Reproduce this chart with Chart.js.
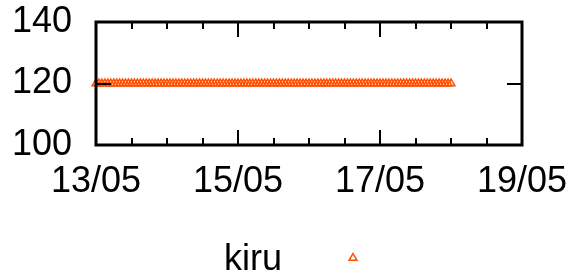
<!DOCTYPE html>
<html lang="en">
<head>
    <meta charset="UTF-8">
    <title>kiru</title>
    <script src="https://cdn.jsdelivr.net/npm/chart.js"></script>
    <style>
        body { margin: 0; background: #fff; }
        #wrap { width: 587px; height: 275px; }
    </style>
</head>
<body>
    <div id="wrap"><canvas id="chart" width="587" height="275"></canvas></div>
    <script>
        // x axis: days after 13/05, labelled every 2 days, ticks every 12 h
        const dayLabels = ['13/05', '14/05', '15/05', '16/05', '17/05', '18/05', '19/05'];
        const yTicks = [100, 120, 140];
        const seriesName = 'kiru';
        // hourly samples from 13/05 00:00 to 18/05 00:00
        const kiru = [
            120, 120, 120, 120, 120, 120, 120, 120, 120, 120, 120, 120, 120, 120, 120, 120, 120, 120, 120, 120, 120, 120, 120, 120,
            120, 120, 120, 120, 120, 120, 120, 120, 120, 120, 120, 120, 120, 120, 120, 120, 120, 120, 120, 120, 120, 120, 120, 120,
            120, 120, 120, 120, 120, 120, 120, 120, 120, 120, 120, 120, 120, 120, 120, 120, 120, 120, 120, 120, 120, 120, 120, 120,
            120, 120, 120, 120, 120, 120, 120, 120, 120, 120, 120, 120, 120, 120, 120, 120, 120, 120, 120, 120, 120, 120, 120, 120,
            120, 120, 120, 120, 120, 120, 120, 120, 120, 120, 120, 120, 120, 120, 120, 120, 120, 120, 120, 120, 120, 120, 120, 120,
            120
        ];
        const pointColor = '#ff4f00';
        const fontFam = '"Liberation Sans", Arial, sans-serif';

        const points = kiru.map((v, i) => ({ x: i / 24, y: v }));

        // gnuplot-style frame with inward ticks on all four sides
        const framePlugin = {
            id: 'frame',
            afterDatasetsDraw(chart) {
                const { ctx, chartArea: a, scales } = chart;
                ctx.save();
                ctx.strokeStyle = '#000';
                ctx.lineWidth = 2;
                scales.x.ticks.forEach(t => {
                    const px = Math.round(scales.x.getPixelForValue(t.value));
                    const len = (t.value % 2 === 0) ? 15 : 7;
                    ctx.beginPath();
                    ctx.moveTo(px, a.bottom); ctx.lineTo(px, a.bottom - len);
                    ctx.moveTo(px, a.top); ctx.lineTo(px, a.top + len);
                    ctx.stroke();
                });
                scales.y.ticks.forEach(t => {
                    const py = Math.round(scales.y.getPixelForValue(t.value));
                    ctx.beginPath();
                    ctx.moveTo(a.left, py); ctx.lineTo(a.left + 15, py);
                    ctx.moveTo(a.right, py); ctx.lineTo(a.right - 15, py);
                    ctx.stroke();
                });
                ctx.lineWidth = 3;
                ctx.strokeRect(a.left, a.top, a.right - a.left, a.bottom - a.top);
                ctx.restore();
            },
            afterDraw(chart) {
                const ctx = chart.ctx;
                ctx.save();
                ctx.font = '36px ' + fontFam;
                ctx.fillStyle = '#000';
                ctx.textAlign = 'right';
                ctx.textBaseline = 'alphabetic';
                ctx.fillText(chart.data.datasets[0].label, 282, 270);
                ctx.strokeStyle = pointColor;
                ctx.lineWidth = 1.5;
                const cx = 353, cy = 258, r = 4.5;
                ctx.beginPath();
                ctx.moveTo(cx, cy - r);
                ctx.lineTo(cx + r * 0.866, cy + r / 2);
                ctx.lineTo(cx - r * 0.866, cy + r / 2);
                ctx.closePath();
                ctx.stroke();
                ctx.restore();
            }
        };

        new Chart(document.getElementById('chart').getContext('2d'), {
            type: 'scatter',
            data: {
                datasets: [{
                    label: seriesName,
                    data: points,
                    pointStyle: 'triangle',
                    pointRadius: 4.5,
                    pointBorderWidth: 1.5,
                    pointBorderColor: pointColor,
                    pointBackgroundColor: 'rgba(0,0,0,0)',
                    clip: 10
                }]
            },
            options: {
                responsive: false,
                animation: false,
                events: [],
                layout: { padding: { left: 0, top: 0, right: 65, bottom: 70 } },
                plugins: { legend: { display: false }, tooltip: { enabled: false } },
                scales: {
                    x: {
                        type: 'linear',
                        min: 0,
                        max: dayLabels.length - 1,
                        grid: { display: false, drawTicks: false },
                        border: { display: false },
                        afterFit: s => { s.height = 60; s.paddingLeft = 0; s.paddingRight = 0; },
                        ticks: {
                            stepSize: 0.5,
                            autoSkip: false,
                            maxRotation: 0,
                            padding: 15,
                            color: '#000',
                            font: { family: fontFam, size: 36 },
                            callback: v => (v % 2 === 0) ? dayLabels[v] : ''
                        }
                    },
                    y: {
                        min: yTicks[0],
                        max: yTicks[yTicks.length - 1],
                        afterBuildTicks: s => { s.ticks = yTicks.map(v => ({ value: v })); },
                        grid: { display: false, drawTicks: false },
                        border: { display: false },
                        afterFit: s => { s.width = 96; s.paddingTop = 22; s.paddingBottom = 0; },
                        ticks: {
                            padding: 24,
                            color: '#000',
                            font: { family: fontFam, size: 36 }
                        }
                    }
                }
            },
            plugins: [framePlugin]
        });
    </script>
</body>
</html>
